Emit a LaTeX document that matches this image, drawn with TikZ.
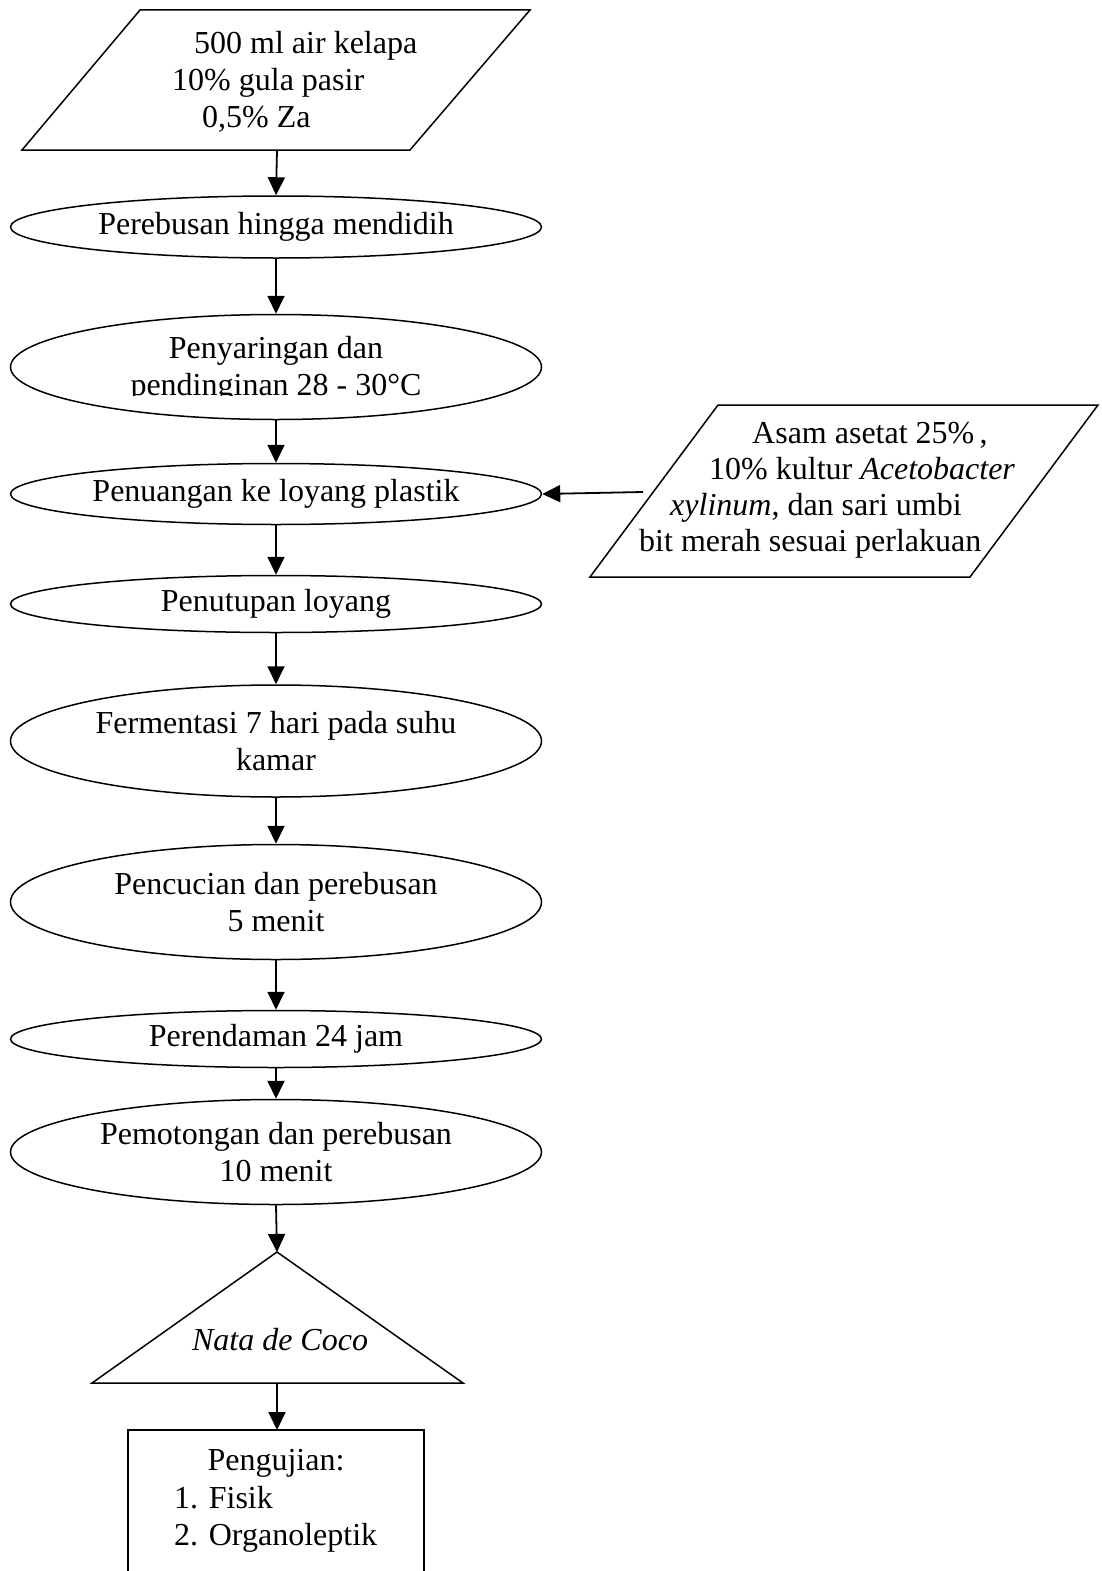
\documentclass[tikz,border=0pt]{standalone}
\usepackage{fontspec}
\setmainfont{Liberation Serif}
\usetikzlibrary{shapes.geometric,arrows.meta}
\newcommand\myfs{\fontsize{32}{37}\selectfont}
\begin{document}
\begin{tikzpicture}[x=1pt,y=-1pt,
  proc/.style={draw,ellipse,line width=1.5pt,inner sep=0pt,minimum width=531pt,align=center,font=\myfs},
  shp/.style={draw,line width=1.5pt,line join=miter},
  arr/.style={-{Triangle[length=18pt,width=17pt]},line width=1.8pt},
  txt/.style={inner sep=0pt,font=\myfs,anchor=base west},
  ctxt/.style={inner sep=0pt,font=\myfs,anchor=base}]
\useasboundingbox (0,0) rectangle (1101,1571);
\clip (0,0) rectangle (1101,1571);
% top input parallelogram
\draw[shp] (140,10) -- (530,10) -- (410,150) -- (22,150) -- cycle;
\coordinate (inbot) at (277,150);
\node[txt] (in1) at (194,53) {500 ml air kelapa};
\node[txt] (in2) at (172,90) {10\% gula pasir};
\node[txt] (in3) at (202,127) {0,5\% Za};
% process ellipses
\node[proc,minimum height=62pt] (e1) at (276,227) {Perebusan hingga mendidih};
\node[proc,minimum height=105pt] (e2) at (276,367) {};
\begin{scope}
\clip (20,320) rectangle (530,395);
\node[inner sep=0pt,font=\myfs,align=center] (t2) at (276,369) {Penyaringan dan\\pendinginan 28 - 30\textdegree C};
\end{scope}
\node[proc,minimum height=61pt] (e3) at (276,494) {Penuangan ke loyang plastik};
\node[proc,minimum height=57pt] (e4) at (276,604) {Penutupan loyang};
\node[proc,minimum height=112pt] (e5) at (276,741) {Fermentasi 7 hari pada suhu\\kamar};
\node[proc,minimum height=115pt] (e6) at (276,902) {Pencucian dan perebusan\\5 menit};
\node[proc,minimum height=57pt] (e7) at (276,1039) {Perendaman 24 jam};
\node[proc,minimum height=105pt] (e8) at (276,1152) {Pemotongan dan perebusan\\10 menit};
% side input parallelogram
\draw[shp] (718,405) -- (1098,405) -- (970,577) -- (590,577) -- cycle;
\coordinate (sidein) at (643,492);
\node[txt] (s1) at (752,443) {Asam asetat 25\%\,,};
\node[txt] (s2) at (709,479) {10\% kultur \textit{Acetobacter}};
\node[txt] (s3) at (670,515) {\textit{xylinum}, dan sari umbi};
\node[txt] (s4) at (639,551) {bit merah sesuai perlakuan};
% triangle
\coordinate (tri) at (277,1252);
\draw[shp] (tri) -- (463,1383) -- (92,1383) -- cycle;
\coordinate (tribot) at (277,1383);
\node[ctxt] (nata) at (280,1350) {\textit{Nata de Coco}};
% test box
\draw[shp] (128,1580) -- (128,1430) -- (424,1430) -- (424,1580);
\coordinate (uji) at (277,1430);
\node[ctxt] (u1) at (276,1470) {Pengujian:};
\node[txt] (u2) at (174,1508) {1. Fisik};
\node[txt] (u3) at (174,1545) {2. Organoleptik};
% connectors
\draw[arr] (inbot) -- (e1.north);
\draw[arr] (e1.south) -- (e2.north);
\draw[arr] (e2.south) -- (e3.north);
\draw[arr] (sidein) -- (e3.east);
\draw[arr] (e3.south) -- (e4.north);
\draw[arr] (e4.south) -- (e5.north);
\draw[arr] (e5.south) -- (e6.north);
\draw[arr] (e6.south) -- (e7.north);
\draw[arr] (e7.south) -- (e8.north);
\draw[arr] (e8.south) -- (tri);
\draw[arr] (tribot) -- (uji);
\end{tikzpicture}
\end{document}
